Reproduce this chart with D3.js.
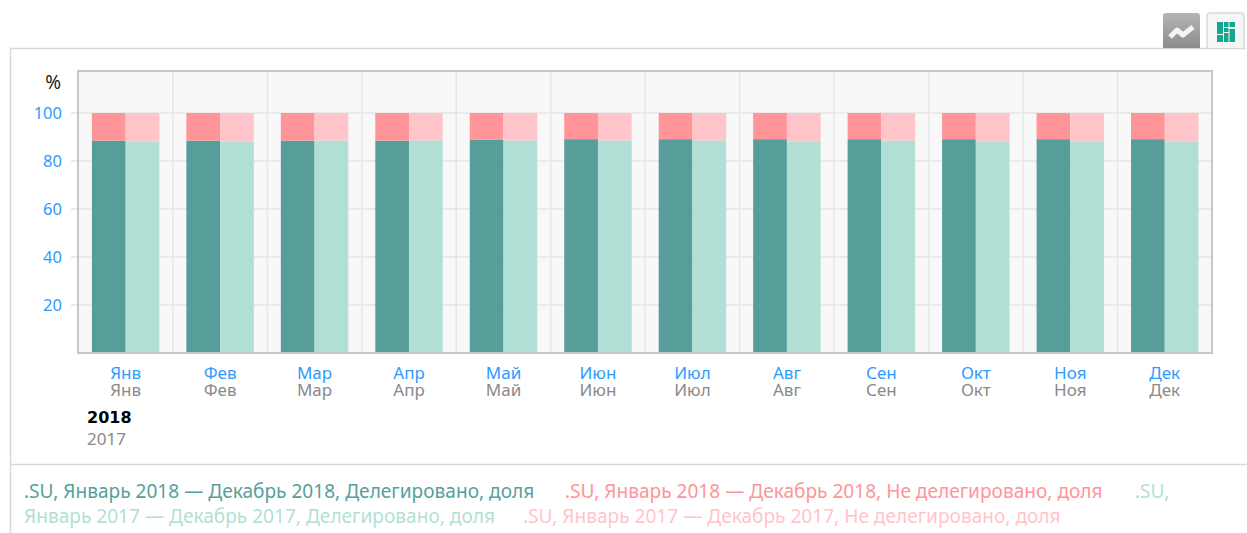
<!doctype html>
<html lang="ru">
<head>
<meta charset="utf-8">
<script src="https://d3js.org/d3.v7.min.js"></script>
<style>
  html, body { margin: 0; padding: 0; background: #fff; overflow: hidden; }
  svg { display: block; font-family: "Noto Sans", sans-serif; }
</style>
</head>
<body>
<svg id="svg1" width="1247" height="533"></svg>
<script>
const months = ["Янв", "Фев", "Мар", "Апр", "Май", "Июн", "Июл", "Авг", "Сен", "Окт", "Ноя", "Дек"];
const delegated2018 = [88.5, 88.5, 88.5, 88.5, 88.8, 89.1, 89.1, 89.1, 89.1, 89.1, 89.1, 89.1];
const delegated2017 = [88.2, 88.2, 88.5, 88.6, 88.6, 88.6, 88.6, 88.2, 88.5, 88.2, 88.2, 88.2];
const yearLabels = ["2018", "2017"];
const yTicks = [20, 40, 60, 80, 100];
const legendLines = [
  [[".SU, Январь 2018 — Декабрь 2018, Делегировано, доля", "#55a09c", 24],
   [".SU, Январь 2018 — Декабрь 2018, Не делегировано, доля", "#ff9499", 565],
   [".SU,", "#b2dfd5", 1135]],
  [["Январь 2017 — Декабрь 2017, Делегировано, доля", "#b2dfd5", 24],
   [".SU, Январь 2017 — Декабрь 2017, Не делегировано, доля", "#ffc5ca", 523]]
];

const svg = d3.select("#svg1");
const plot = { left: 78, right: 1212, top: 71, bottom: 353 };

const xScale = d3.scaleBand().domain(months).range([plot.left + 0.4, plot.right]);
const xInner = d3.scaleBand().domain(["2018", "2017"])
  .range([13.5, xScale.bandwidth() - 13.5]);
const yScale = d3.scaleLinear().domain([0, 117.5]).range([plot.bottom, plot.top]);

// frames around the chart
svg.append("path")
  .attr("d", "M10.5,533V48.5H1245.5")
  .attr("fill", "none").attr("stroke", "#d9d9d9").attr("stroke-width", 1.5);
svg.append("line")
  .attr("x1", 10).attr("x2", 1247).attr("y1", 464.5).attr("y2", 464.5)
  .attr("stroke", "#d9d9d9").attr("stroke-width", 1.5);

// plot background and grid
svg.append("rect")
  .attr("x", plot.left).attr("y", plot.top)
  .attr("width", plot.right - plot.left).attr("height", plot.bottom - plot.top)
  .attr("fill", "#f8f8f8");

svg.append("g").selectAll("line")
  .data(yTicks)
  .join("line")
  .attr("x1", plot.left - 7).attr("x2", plot.right)
  .attr("y1", d => yScale(d)).attr("y2", d => yScale(d))
  .attr("stroke", "#e6e6e6").attr("stroke-width", 1.5);

svg.append("g").selectAll("line")
  .data(months.slice(1))
  .join("line")
  .attr("x1", d => xScale(d)).attr("x2", d => xScale(d))
  .attr("y1", plot.top).attr("y2", plot.bottom)
  .attr("stroke", "#e6e6e6").attr("stroke-width", 1.5);

// bars: share of delegated + rest up to 100
function drawBars(values, year, lowColor, highColor) {
  const g = svg.append("g");
  g.selectAll(".low")
    .data(values)
    .join("rect")
    .attr("class", "low")
    .attr("x", (d, i) => xScale(months[i]) + xInner(year))
    .attr("width", xInner.bandwidth())
    .attr("y", d => yScale(d))
    .attr("height", d => yScale(0) - yScale(d))
    .attr("fill", lowColor);
  g.selectAll(".high")
    .data(values)
    .join("rect")
    .attr("class", "high")
    .attr("x", (d, i) => xScale(months[i]) + xInner(year))
    .attr("width", xInner.bandwidth())
    .attr("y", yScale(100))
    .attr("height", d => yScale(d) - yScale(100))
    .attr("fill", highColor);
}
drawBars(delegated2018, "2018", "#579e9b", "#ff9499");
drawBars(delegated2017, "2017", "#b2dfd5", "#ffc5ca");

// plot border
svg.append("path")
  .attr("d", `M${plot.left},${plot.bottom}V${plot.top}H${plot.right}V${plot.bottom}Z`)
  .attr("fill", "none").attr("stroke", "#c8c8c8").attr("stroke-width", 2);

// y axis labels
svg.append("g").selectAll("text")
  .data(yTicks)
  .join("text")
  .attr("x", 62).attr("y", d => yScale(d) + 6)
  .attr("text-anchor", "end").attr("font-size", 16.5)
  .attr("fill", "#2e9bff")
  .text(d => d);
svg.append("text")
  .attr("x", 61).attr("y", 89)
  .attr("text-anchor", "end").attr("font-size", 19)
  .attr("fill", "#222")
  .text("%");

// x axis labels, two rows
svg.append("g").selectAll("text")
  .data(months)
  .join("text")
  .attr("x", d => xScale(d) + xScale.bandwidth() / 2)
  .attr("y", 379)
  .attr("text-anchor", "middle").attr("font-size", 17)
  .attr("fill", "#2e9bff")
  .text(d => d);
svg.append("g").selectAll("text")
  .data(months)
  .join("text")
  .attr("x", d => xScale(d) + xScale.bandwidth() / 2)
  .attr("y", 396)
  .attr("text-anchor", "middle").attr("font-size", 17)
  .attr("fill", "#8a8a8a")
  .text(d => d);

svg.append("text")
  .attr("x", 87).attr("y", 423)
  .attr("font-family", "DejaVu Sans")
  .attr("font-size", 16).attr("font-weight", "bold").attr("fill", "#000")
  .text(yearLabels[0]);
svg.append("text")
  .attr("x", 87).attr("y", 445)
  .attr("font-size", 17).attr("fill", "#8a8a8a")
  .text(yearLabels[1]);

// legend
legendLines.forEach((line, i) => {
  svg.append("g").selectAll("text")
    .data(line)
    .join("text")
    .attr("x", d => d[2])
    .attr("y", 498 + i * 25)
    .attr("font-size", 19.1)
    .attr("fill", d => d[1])
    .text(d => d[0]);
});

// chart type buttons
const btnGrad = svg.append("defs").append("linearGradient")
  .attr("id", "btn").attr("x1", 0).attr("x2", 0).attr("y1", 0).attr("y2", 1);
btnGrad.append("stop").attr("offset", 0).attr("stop-color", "#b5b5b5");
btnGrad.append("stop").attr("offset", 1).attr("stop-color", "#8c8c8c");

svg.append("path")
  .attr("d", "M1163,48V16q0,-3 3,-3H1197q3,0 3,3V48Z")
  .attr("fill", "url(#btn)");
svg.append("path")
  .attr("d", "M1170,37L1177,30L1183,35L1193,27")
  .attr("fill", "none").attr("stroke", "#f4f4f4").attr("stroke-width", 5)
  .attr("stroke-linejoin", "round");
svg.append("path")
  .attr("d", "M1207,48V16q0,-3 3,-3H1241q3,0 3,3V48")
  .attr("fill", "#f6f6f6").attr("stroke", "#d9d9d9").attr("stroke-width", 1.5);

const iconCells = [[1217, 22, 6, 12], [1224, 22, 4.5, 5], [1229.5, 22, 5.5, 5], [1224, 28, 4.5, 4],
  [1217, 35, 6, 7], [1224, 33, 4.5, 9], [1229.5, 29, 5.5, 13]];
svg.append("g").selectAll("rect")
  .data(iconCells)
  .join("rect")
  .attr("x", d => d[0]).attr("y", d => d[1])
  .attr("width", d => d[2]).attr("height", d => d[3])
  .attr("fill", "#14a68f");
</script>
</body>
</html>
